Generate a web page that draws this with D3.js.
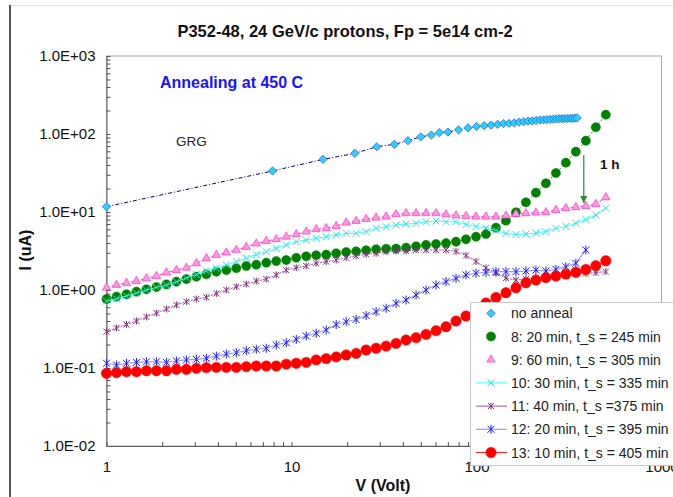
<!DOCTYPE html>
<html><head><meta charset="utf-8">
<script src="https://cdn.jsdelivr.net/npm/d3@7"></script>
<style>
body{margin:0;background:#fff}
svg{display:block}
text{font-family:Arial,"Liberation Sans",sans-serif}
</style>
</head><body>
<svg id="c" width="673" height="497"></svg>
<script>
// ---------- DATA ----------
const chartTitle = "P352-48, 24 GeV/c protons, Fp = 5e14 cm-2";
const xTitle = "V (Volt)";
const yTitle = "I (uA)";
const xTickValues = [1, 10, 100, 1000];
const xTickLabels = ["1", "10", "100", "1000"];
const yTickValues = [1000, 100, 10, 1, 0.1, 0.01];
const yTickLabels = ["1.0E+03", "1.0E+02", "1.0E+01", "1.0E+00", "1.0E-01", "1.0E-02"];

// common bias voltage steps for the annealing series (Volt)
const voltSteps = [1, 1.132, 1.282, 1.452, 1.644, 1.862, 2.108, 2.387, 2.703, 3.061,
  3.466, 3.924, 4.444, 5.032, 5.698, 6.452, 7.306, 8.273, 9.368, 10.61,
  12.01, 13.60, 15.40, 17.44, 19.75, 22.36, 25.32, 28.67, 32.47, 36.76,
  41.63, 47.14, 53.38, 60.44, 68.44, 77.50, 87.75, 99.37, 112.5, 127.4,
  144.3, 163.4, 185.0, 209.5, 237.2, 268.6, 304.1, 344.4, 390.0, 441.6, 500];

const noAnnealV = [1, 7.9, 14.8, 22, 28.9, 36, 42.6, 50, 57, 63, 70, 80, 90, 100, 110, 120, 130, 140,
  150, 160, 170, 180, 190, 200, 210, 220, 230, 240, 250, 260, 270, 280, 290, 300, 310, 320, 330, 340, 350];
const noAnnealI = [11.7, 33.6, 47.3, 56.5, 68.7, 73.8, 82, 92, 97, 104, 106, 113, 120, 125, 128, 130, 133, 136,
  137, 139, 142, 144, 146, 147, 149, 151, 152, 153, 154, 155, 156, 157, 157, 158, 158, 159, 159, 160, 161];

const s8I = [0.767, 0.821, 0.881, 0.951, 1.02, 1.09, 1.18, 1.28, 1.38, 1.48,
  1.59, 1.72, 1.80, 1.90, 2.03, 2.11, 2.24, 2.35, 2.42, 2.59,
  2.70, 2.79, 2.84, 2.95, 3.07, 3.13, 3.23, 3.33, 3.38, 3.40,
  3.49, 3.63, 3.78, 3.89, 3.98, 4.16, 4.47, 4.82, 5.22, 6.29,
  7.74, 9.91, 13.3, 17.7, 23.3, 31.6, 42.9, 59.3, 82.1, 122, 177];
const s9I = [1.07, 1.16, 1.23, 1.30, 1.41, 1.51, 1.67, 1.80, 1.93, 2.20,
  2.55, 2.81, 3.01, 3.26, 3.56, 3.93, 4.25, 4.47, 4.82, 5.18,
  5.59, 6.00, 6.18, 6.61, 7.29, 7.67, 8.13, 8.45, 8.71, 9.34,
  9.62, 9.62, 9.62, 9.62, 9.29, 9.02, 8.89, 8.71, 8.71, 8.71,
  8.97, 9.43, 9.62, 9.80, 9.91, 10.6, 11.2, 11.5, 11.9, 12.6, 15.4];
const s10I = [0.72, 0.77, 0.84, 0.915, 1.0, 1.08, 1.16, 1.27, 1.43, 1.58,
  1.75, 1.91, 2.09, 2.32, 2.55, 2.85, 3.10, 3.42, 3.78, 4.16,
  4.38, 4.60, 4.82, 5.07, 5.33, 5.33, 5.60, 6.18, 6.48, 6.81,
  7.01, 7.15, 7.50, 7.66, 7.50, 7.50, 6.93, 6.53, 6.24, 5.80,
  5.33, 5.14, 5.22, 5.37, 5.63, 6.15, 6.53, 7.22, 8.01, 9.15, 11.2];
const s11I = [0.292, 0.326, 0.361, 0.401, 0.451, 0.507, 0.571, 0.642, 0.708, 0.767,
  0.806, 0.902, 1.0, 1.10, 1.19, 1.30, 1.38, 1.56, 1.80, 1.93,
  2.03, 2.20, 2.31, 2.42, 2.59, 2.73, 2.87, 2.95, 3.10, 3.16,
  3.16, 3.26, 3.26, 3.26, 3.26, 3.12, 2.77, 2.32, 1.92, 1.65,
  1.42, 1.34, 1.38, 1.42, 1.47, 1.49, 1.53, 1.60, 1.63, 1.67, 1.72];
const s12I = [0.115, 0.109, 0.115, 0.118, 0.120, 0.120, 0.118, 0.123, 0.127, 0.129,
  0.133, 0.142, 0.151, 0.157, 0.167, 0.174, 0.179, 0.197, 0.211, 0.233,
  0.257, 0.279, 0.307, 0.361, 0.392, 0.419, 0.471, 0.527, 0.583, 0.675,
  0.744, 0.863, 1.00, 1.16, 1.28, 1.41, 1.56, 1.64, 1.68, 1.72,
  1.72, 1.72, 1.75, 1.80, 1.75, 1.84, 1.99, 2.20, 3.26];
const s13I = [0.0855, 0.0871, 0.0897, 0.0897, 0.0923, 0.0923, 0.0923, 0.0962, 0.0962, 0.0991,
  0.101, 0.102, 0.102, 0.102, 0.104, 0.106, 0.106, 0.106, 0.112, 0.115,
  0.118, 0.127, 0.132, 0.139, 0.147, 0.154, 0.170, 0.179, 0.191, 0.207,
  0.229, 0.245, 0.270, 0.301, 0.338, 0.400, 0.464, 0.571, 0.681, 0.801,
  0.923, 1.07, 1.24, 1.34, 1.44, 1.51, 1.60, 1.69, 1.83, 2.05, 2.37];

const seriesNames = ["no anneal", "8: 20 min, t_s = 245 min", "9: 60 min, t_s = 305 min",
  "10: 30 min, t_s = 335 min", "11: 40 min, t_s =375 min", "12: 20 min, t_s = 395 min",
  "13: 10 min, t_s = 405 min"];

// annotation: "1 h" arrow (volt, from current, to current)
const arrowV = 380, arrowFromI = 53.8, arrowToI = 13.0;

// ---------- STYLES ----------
const styles = [
  {line: "#000080", dash: "4,2,1,2", w: 1, marker: "diamond", fill: "#33ccff", stroke: "#1a66cc", legendLine: false},
  {line: "#2f8f2f", dash: "2,2", w: 1, marker: "circle", fill: "#008000", stroke: "#008000", r: 4.6, legendLine: false},
  {line: "#ff33cc", dash: "3,2", w: 1, marker: "triangle", fill: "#ff99dd", stroke: "#ff33cc", legendLine: false},
  {line: "#33ffff", dash: null, w: 1, marker: "x", fill: "none", stroke: "#22e6e6", legendLine: true},
  {line: "#a050a8", dash: "2,1", w: 1, marker: "asterisk", fill: "none", stroke: "#80307f", legendLine: true},
  {line: "#9999ff", dash: null, w: 1.2, marker: "star", fill: "none", stroke: "#1a1aff", legendLine: true},
  {line: "#ff2020", dash: null, w: 1, marker: "circle", fill: "#ff0000", stroke: "#ff0000", r: 5.2, legendLine: true}
];

const seriesData = [
  [noAnnealV, noAnnealI],
  [voltSteps, s8I], [voltSteps, s9I], [voltSteps, s10I],
  [voltSteps, s11I], [voltSteps, s12I], [voltSteps, s13I]
].map(([vs, is]) => is.map((iv, k) => ({v: vs[k], i: iv})));

// ---------- DRAW ----------
const svg = d3.select("#c");
svg.append("rect").attr("width", 673).attr("height", 497).attr("fill", "#fff");
svg.append("line").attr("x1", 10).attr("x2", 673).attr("y1", 5.5).attr("y2", 5.5).attr("stroke", "#e4e4e4");
svg.append("line").attr("x1", 10).attr("x2", 10).attr("y1", 5).attr("y2", 497).attr("stroke", "#555").attr("stroke-width", 2);

const x = d3.scaleLog().domain([1, 1000]).range([106.5, 661.5]);
const y = d3.scaleLog().domain([0.01, 1000]).range([446, 56]);

// plot area border
svg.append("rect")
  .attr("x", x.range()[0]).attr("y", y.range()[1])
  .attr("width", x.range()[1] - x.range()[0]).attr("height", y.range()[0] - y.range()[1])
  .attr("fill", "#fff").attr("stroke", "#a8a8a8").attr("stroke-width", 1);

// minor ticks
const yMinor = [], xMinor = [];
[0.01, 0.1, 1, 10, 100].forEach(d => { for (let k = 2; k <= 9; k++) yMinor.push(d * k); });
[1, 10, 100].forEach(d => { for (let k = 2; k <= 9; k++) xMinor.push(d * k); });

const gyT = svg.append("g").attr("transform", `translate(${x(1)},0)`)
  .call(d3.axisLeft(y).tickValues(yMinor.concat(yTickValues)).tickSize(-4).tickSizeOuter(0).tickFormat(""));
const gxT = svg.append("g").attr("transform", `translate(0,${y(0.01)})`)
  .call(d3.axisBottom(x).tickValues(xMinor.concat(xTickValues)).tickSize(-4).tickSizeOuter(0).tickFormat(""));
[gyT, gxT].forEach(g => {
  g.select(".domain").attr("stroke", "#606060");
  g.selectAll(".tick line").attr("stroke", "#505050");
});

const gy = svg.append("g").attr("transform", `translate(${x(1)},0)`)
  .call(d3.axisLeft(y).tickValues(yTickValues).tickFormat((d, i) => yTickLabels[i]).tickSize(0).tickPadding(11));
const gx = svg.append("g").attr("transform", `translate(0,${y(0.01)})`)
  .call(d3.axisBottom(x).tickValues(xTickValues).tickFormat((d, i) => xTickLabels[i]).tickSize(0).tickPadding(15));
[gy, gx].forEach(g => {
  g.select(".domain").remove();
  g.selectAll("text").attr("font-size", "15px").attr("fill", "#111").attr("font-family", "Arial, 'Liberation Sans', sans-serif");
});

// marker helper
function drawMarker(sel, st) {
  if (st.marker === "circle") {
    sel.append("circle").attr("r", st.r).attr("fill", st.fill).attr("stroke", st.stroke).attr("stroke-width", 0.5);
  } else if (st.marker === "diamond") {
    sel.append("path").attr("d", d3.symbol(d3.symbolSquare, 34)()).attr("transform", "rotate(45)")
      .attr("fill", st.fill).attr("stroke", st.stroke).attr("stroke-width", 0.7);
  } else if (st.marker === "triangle") {
    sel.append("path").attr("d", d3.symbol(d3.symbolTriangle, 30)())
      .attr("fill", st.fill).attr("stroke", st.stroke).attr("stroke-width", 0.7);
  } else if (st.marker === "x") {
    sel.append("path").attr("d", "M-3.5,-3.5L3.5,3.5M-3.5,3.5L3.5,-3.5").attr("fill", "none").attr("stroke", st.stroke).attr("stroke-width", 1);
  } else if (st.marker === "asterisk") {
    sel.append("path").attr("d", "M-3,-3L3,3M-3,3L3,-3M0,-3.5L0,3.5").attr("fill", "none").attr("stroke", st.stroke).attr("stroke-width", 1);
  } else if (st.marker === "star") {
    sel.append("path").attr("d", "M-3.5,-3.5L3.5,3.5M-3.5,3.5L3.5,-3.5M0,-4.5L0,4.5").attr("fill", "none").attr("stroke", st.stroke).attr("stroke-width", 1);
  }
}

const lineGen = d3.line().x(d => x(d.v)).y(d => y(d.i));
const plot = svg.append("g");
seriesData.forEach((data, si) => {
  const st = styles[si];
  const g = plot.append("g");
  g.append("path").datum(data).attr("d", lineGen).attr("fill", "none")
    .attr("stroke", st.line).attr("stroke-width", st.w).attr("stroke-dasharray", st.dash);
  g.selectAll("g.m").data(data).join("g").attr("class", "m")
    .attr("transform", d => `translate(${x(d.v)},${y(d.i)})`)
    .each(function () { drawMarker(d3.select(this), st); });
});

// arrow annotation
const defs = svg.append("defs");
defs.append("marker").attr("id", "ah").attr("viewBox", "0 0 10 10").attr("refX", 10).attr("refY", 5)
  .attr("markerWidth", 7).attr("markerHeight", 8).attr("markerUnits", "userSpaceOnUse").attr("orient", "auto")
  .append("path").attr("d", "M0,0L10,5L0,10Z").attr("fill", "#2e8b2e");
svg.append("line").attr("x1", x(arrowV)).attr("x2", x(arrowV))
  .attr("y1", y(arrowFromI)).attr("y2", y(arrowToI))
  .attr("stroke", "#3a9a3a").attr("stroke-width", 1.3).attr("marker-end", "url(#ah)");
svg.append("text").attr("x", 600).attr("y", 168.5).attr("font-size", "13.5px").attr("font-weight", "bold").attr("fill", "#111").text("1 h");

// texts
svg.append("text").attr("x", 345).attr("y", 36.5).attr("text-anchor", "middle")
  .attr("font-size", "16.5px").attr("font-weight", "bold").attr("fill", "#111").text(chartTitle);
svg.append("text").attr("x", 160).attr("y", 87.5).attr("font-size", "16px").attr("font-weight", "bold")
  .attr("fill", "#1414ff").text("Annealing at 450 C");
svg.append("text").attr("x", 176).attr("y", 146).attr("font-size", "13.5px").attr("fill", "#222").text("GRG");
svg.append("text").attr("x", 383).attr("y", 491).attr("text-anchor", "middle")
  .attr("font-size", "16px").attr("font-weight", "bold").attr("fill", "#111").text(xTitle);
svg.append("text").attr("transform", "translate(31,250) rotate(-90)").attr("text-anchor", "middle")
  .attr("font-size", "16px").attr("font-weight", "bold").attr("fill", "#111").text(yTitle);

// legend
const lg = svg.append("g").attr("transform", "translate(470,302)");
lg.append("rect").attr("x", 0.5).attr("y", 0.5).attr("width", 215).attr("height", 163)
  .attr("fill", "#fff").attr("stroke", "#c8c8c8").attr("stroke-width", 1);
seriesNames.forEach((name, si) => {
  const st = styles[si];
  const row = lg.append("g").attr("transform", `translate(0,${11.3 + si * 23.2})`);
  if (st.legendLine) {
    row.append("line").attr("x1", 6).attr("x2", 37).attr("y1", 0).attr("y2", 0)
      .attr("stroke", st.line).attr("stroke-width", st.w);
  }
  drawMarker(row.append("g").attr("transform", "translate(21,0)"), st);
  row.append("text").attr("x", 41).attr("y", 5).attr("font-size", "14px").attr("fill", "#222").text(name);
});
</script>
</body></html>
